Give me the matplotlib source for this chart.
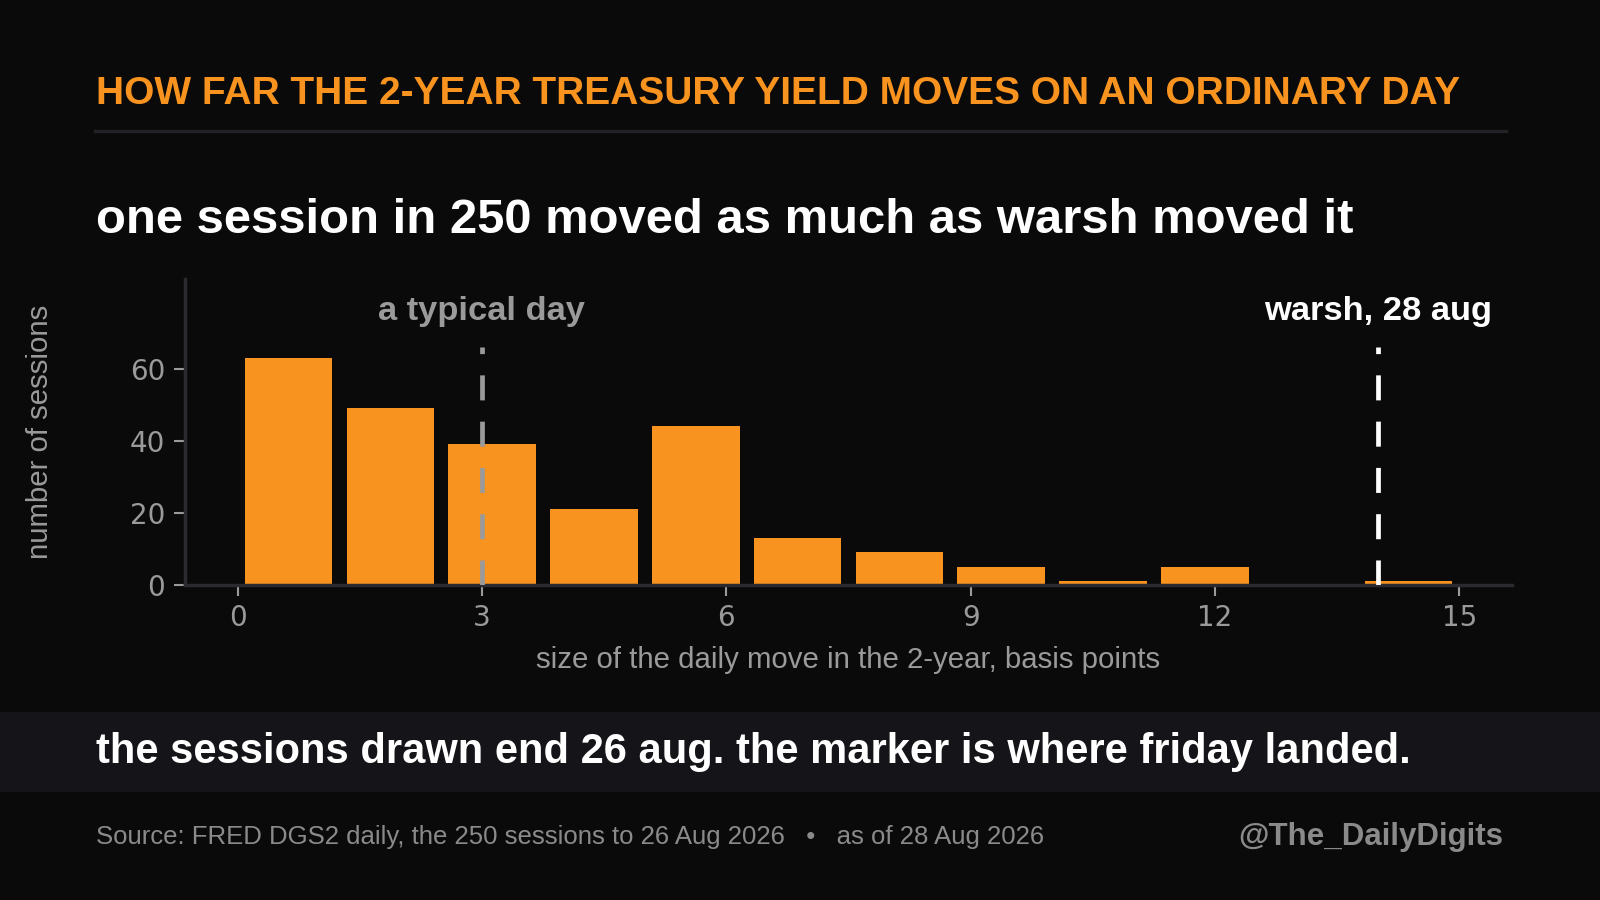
import matplotlib
matplotlib.use("Agg")
import matplotlib.pyplot as plt
from matplotlib.patches import Rectangle
from matplotlib.lines import Line2D

# daily move size histogram, 250 sessions
bin_edges = [0, 1.25, 2.5, 3.75, 5.0, 6.25, 7.5, 8.75, 10.0, 11.25, 12.5, 13.75, 15.0]
counts = [63, 49, 39, 21, 44, 13, 9, 5, 1, 5, 0, 1]
typical_move = 3.0
warsh_move = 14.0
xticks = [0, 3, 6, 9, 12, 15]
yticks = [0, 20, 40, 60]

BG = "#0a0a0a"
ORANGE = "#f7931e"
GREY = "#9a9a9a"
SPINE = "#2a2a30"

plt.rcParams['font.family'] = ['Liberation Sans', 'DejaVu Sans']

fig = plt.figure(figsize=(16, 9), dpi=100, facecolor=BG)

# reference layout measured on a 1568x882 canvas
W, H = 1568, 882
def fx(px): return px / W
def fy(py): return 1 - py / H

# header
fig.text(fx(94), fy(92), "HOW FAR THE 2-YEAR TREASURY YIELD MOVES ON AN ORDINARY DAY",
         color=ORANGE, fontsize=28, fontweight='bold', va='center', ha='left')
fig.add_artist(Line2D([fx(93), fx(1476)], [fy(128), fy(128)], color="#222226", lw=2.5,
                      transform=fig.transFigure))
fig.text(fx(94), fy(216), "one session in 250 moved as much as warsh moved it",
         color='white', fontsize=35.3, fontweight='bold', va='center', ha='left')

# chart
ax = fig.add_axes([fx(181), fy(573), fx(1482) - fx(181), fy(273) - fy(573)])
ax.set_facecolor(BG)
centers = [(a + b) / 2 for a, b in zip(bin_edges[:-1], bin_edges[1:])]
widths = [(b - a) * 0.86 for a, b in zip(bin_edges[:-1], bin_edges[1:])]
ax.bar(centers, counts, width=widths, color=ORANGE, edgecolor='none', zorder=2)

ax.vlines(typical_move, 0, 66, colors=GREY, lw=3.4, linestyles=(0, (5.3, 4.5)), zorder=3)
ax.vlines(warsh_move, 0, 66, colors='white', lw=3.4, linestyles=(0, (5.3, 4.5)), zorder=3)
ax.text(typical_move, 75.8, "a typical day", color=GREY, fontsize=24.8, fontweight='bold',
        ha='center', va='center')
ax.text(warsh_move, 75.8, "warsh, 28 aug", color='white', fontsize=24.8, fontweight='bold',
        ha='center', va='center')

ax.set_xlim(-0.65, 15.65)
ax.set_ylim(0, 85)
ax.set_xticks(xticks)
ax.set_yticks(yticks)
for s in ['top', 'right']:
    ax.spines[s].set_visible(False)
for s in ['left', 'bottom']:
    ax.spines[s].set_color(SPINE)
    ax.spines[s].set_linewidth(2.5)
ax.tick_params(colors=GREY, labelsize=20, length=8, width=1.5, pad=6)
for lab in ax.get_xticklabels() + ax.get_yticklabels():
    lab.set_family(['DejaVu Sans'])
ax.set_xlabel("size of the daily move in the 2-year, basis points", color=GREY,
              fontsize=21.2, va='center')
ax.set_ylabel("number of sessions", color=GREY, fontsize=21.2, va='center')
ax.xaxis.set_label_coords(0.5, (573 - 647) / 300)
ax.yaxis.set_label_coords((39 - 181) / 1301, 0.5)

# band
fig.add_artist(Rectangle((0, fy(776)), 1, fy(698) - fy(776), transform=fig.transFigure,
                         facecolor="#141419", edgecolor='none', zorder=0))
fig.text(fx(94), fy(737), "the sessions drawn end 26 aug. the marker is where friday landed.",
         color='white', fontsize=30, fontweight='bold', va='center', ha='left')

# footer
fig.text(fx(94), fy(820), "Source: FRED DGS2 daily, the 250 sessions to 26 Aug 2026   \u2022   as of 28 Aug 2026",
         color="#8a8a8a", fontsize=18.5, va='center', ha='left')
fig.text(fx(1473), fy(820), "@The_DailyDigits", color="#8a8a8a", fontsize=22.5,
         fontweight='bold', va='center', ha='right')

fig.savefig("out.png", dpi=100, facecolor=BG)
